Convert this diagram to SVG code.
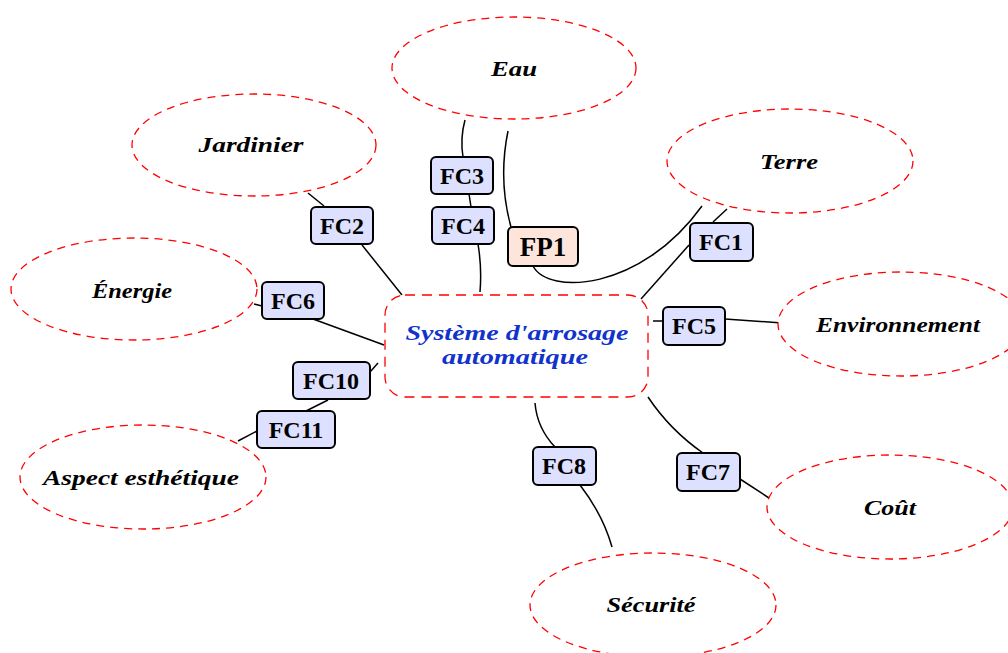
<svg xmlns="http://www.w3.org/2000/svg" width="1008" height="653" viewBox="0 0 1008 653">
<style>
.ell{fill:#fff;stroke:#f00;stroke-width:1.3;stroke-dasharray:8 6}
.lbl{font-family:"Liberation Serif",serif;font-style:italic;font-weight:bold;font-size:22px;fill:#000;text-anchor:middle}
.fc rect{fill:#dde0ff;stroke:#000;stroke-width:2;rx:5}
.fp rect{fill:#fde5dc;stroke:#000;stroke-width:2;rx:5}
.fct{font-family:"Liberation Serif",serif;font-weight:bold;font-size:24px;fill:#000;text-anchor:middle}
.cn path{fill:none;stroke:#000;stroke-width:1.5}
.ctr{fill:#fff;stroke:#f00;stroke-width:1.3;stroke-dasharray:10 7}
.ctt{font-family:"Liberation Serif",serif;font-style:italic;font-weight:bold;font-size:22px;fill:#1133cc;text-anchor:middle}
</style>
<rect width="1008" height="653" fill="#fff"/>
<g id="connectors" class="cn">
<path d="M465,120 Q460,138 463,157"/>
<path d="M469,194 L471,207"/>
<path d="M478,244 Q482,268 480,292"/>
<path d="M508,131 Q498,180 511,227"/>
<path d="M533,266 C548,295 640,292 702,206"/>
<path d="M727,209 L713,222"/>
<path d="M689,245 L641,299"/>
<path d="M653,321 L663,321"/>
<path d="M725,319 L782,323"/>
<path d="M308,193 L324,206"/>
<path d="M362,245 L402,295"/>
<path d="M254,304 L262,306"/>
<path d="M313,319 L384,345"/>
<path d="M378,363 L370,372"/>
<path d="M328,400 L306,411"/>
<path d="M257,431 L238,441"/>
<path d="M535,403 Q537,428 555,447"/>
<path d="M580,485 Q603,515 612,547"/>
<path d="M648,397 Q670,430 703,453"/>
<path d="M740,479 L769,498"/>
</g>
<g id="n-eau"><ellipse class="ell" cx="514" cy="68" rx="122" ry="51"/><text class="lbl" x="514" y="76" textLength="46" lengthAdjust="spacingAndGlyphs">Eau</text></g>
<g id="n-jardinier"><ellipse class="ell" cx="254" cy="145" rx="122" ry="51"/><text class="lbl" x="251" y="152" textLength="105" lengthAdjust="spacingAndGlyphs">Jardinier</text></g>
<g id="n-terre"><ellipse class="ell" cx="790" cy="161" rx="123" ry="52"/><text class="lbl" x="789" y="169" textLength="58" lengthAdjust="spacingAndGlyphs">Terre</text></g>
<g id="n-energie"><ellipse class="ell" cx="134" cy="289" rx="123" ry="51"/><text class="lbl" x="132" y="298" textLength="80" lengthAdjust="spacingAndGlyphs">Énergie</text></g>
<g id="n-environnement"><ellipse class="ell" cx="901" cy="324" rx="123" ry="52"/><text class="lbl" x="898" y="332" textLength="164" lengthAdjust="spacingAndGlyphs">Environnement</text></g>
<g id="n-cout"><ellipse class="ell" cx="890" cy="507" rx="123" ry="52"/><text class="lbl" x="890" y="515" textLength="52" lengthAdjust="spacingAndGlyphs">Coût</text></g>
<g id="n-aspect"><ellipse class="ell" cx="143" cy="477" rx="123" ry="52"/><text class="lbl" x="141" y="485" textLength="196" lengthAdjust="spacingAndGlyphs">Aspect esthétique</text></g>
<g id="n-securite"><ellipse class="ell" cx="653" cy="605" rx="123" ry="52"/><text class="lbl" x="651" y="612" textLength="89" lengthAdjust="spacingAndGlyphs">Sécurité</text></g>
<g id="n-centre"><rect class="ctr" x="385" y="295" width="263" height="102" rx="20"/><text class="ctt" x="517" y="340" textLength="223" lengthAdjust="spacingAndGlyphs">Système d'arrosage</text><text class="ctt" x="515" y="364" textLength="146" lengthAdjust="spacingAndGlyphs">automatique</text></g>
<g id="fc3" class="fc"><rect x="431" y="157" width="62" height="37"/><text class="fct" x="462" y="184">FC3</text></g>
<g id="fc4" class="fc"><rect x="432" y="207" width="62" height="37"/><text class="fct" x="463" y="234">FC4</text></g>
<g id="fp1" class="fp"><rect x="508" y="227" width="70" height="39"/><text class="fct" x="543" y="256" style="font-size:27px">FP1</text></g>
<g id="fc1" class="fc"><rect x="690" y="223" width="63" height="38"/><text class="fct" x="721" y="250">FC1</text></g>
<g id="fc5" class="fc"><rect x="663" y="307" width="62" height="38"/><text class="fct" x="694" y="334">FC5</text></g>
<g id="fc2" class="fc"><rect x="311" y="207" width="62" height="37"/><text class="fct" x="342" y="234">FC2</text></g>
<g id="fc6" class="fc"><rect x="262" y="282" width="62" height="37"/><text class="fct" x="293" y="309">FC6</text></g>
<g id="fc10" class="fc"><rect x="293" y="362" width="77" height="37"/><text class="fct" x="331" y="389">FC10</text></g>
<g id="fc11" class="fc"><rect x="257" y="411" width="78" height="37"/><text class="fct" x="296" y="438">FC11</text></g>
<g id="fc8" class="fc"><rect x="533" y="447" width="63" height="38"/><text class="fct" x="564" y="474">FC8</text></g>
<g id="fc7" class="fc"><rect x="677" y="453" width="63" height="38"/><text class="fct" x="708" y="480">FC7</text></g>
</svg>
